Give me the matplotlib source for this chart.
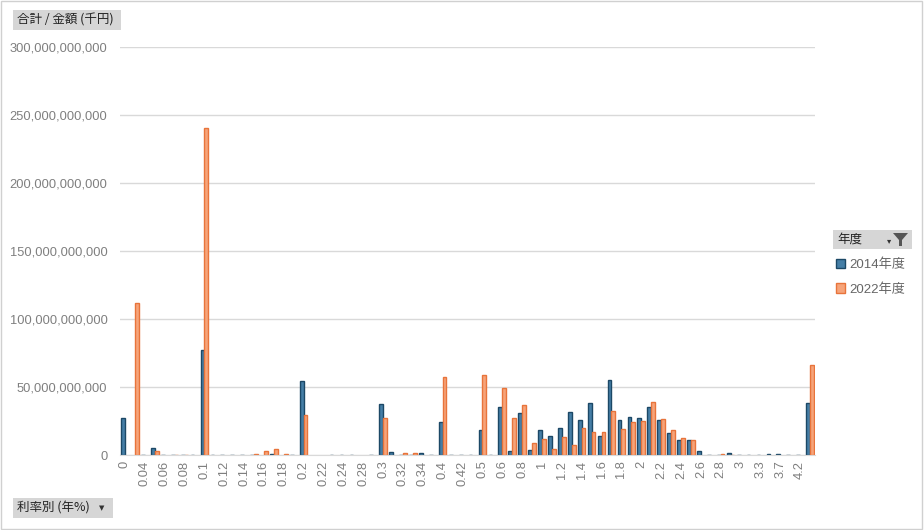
import matplotlib
matplotlib.use('Agg')
import matplotlib.pyplot as plt
import numpy as np
from matplotlib.patches import Rectangle, Polygon
from matplotlib.ticker import FuncFormatter

plt.rcParams['font.family'] = ['Liberation Sans', 'Noto Sans CJK JP', 'DejaVu Sans']

# 利率別 (年%) categories
rates = ['0', '0.01', '0.04', '0.05', '0.06', '0.07', '0.08', '0.09', '0.1', '0.11',
         '0.12', '0.13', '0.14', '0.15', '0.16', '0.17', '0.18', '0.19', '0.2', '0.21',
         '0.22', '0.23', '0.24', '0.25', '0.28', '0.29', '0.3', '0.31', '0.32', '0.33',
         '0.34', '0.35', '0.4', '0.41', '0.42', '0.45', '0.5', '0.55', '0.6', '0.7',
         '0.8', '0.9', '1', '1.1', '1.2', '1.3', '1.4', '1.5', '1.6', '1.7',
         '1.8', '1.9', '2', '2.1', '2.2', '2.3', '2.4', '2.5', '2.6', '2.7',
         '2.8', '2.9', '3', '3.2', '3.3', '3.5', '3.7', '4', '4.2', '4.5']

# 金額 (千円), in units of 1e9
y2014 = [27.5, 0, 0.3, 5, 0.3, 0.2, 0.3, 0.3, 77.5, 0.2,
         0.2, 0.2, 0.2, 0.2, 0, 0.5, 0, 0.3, 54.5, 0,
         0, 0.3, 0.3, 0.3, 0, 0.3, 37.5, 2, 0.3, 0.2,
         1.5, 0.3, 24, 0.3, 0.3, 0.3, 18.7, 0.3, 35.6, 2.7,
         30.6, 3.7, 18.4, 13.9, 19.7, 31.8, 25.6, 38.6, 13.7, 55.5,
         26, 28, 27.4, 35, 26, 16.4, 11.2, 10.7, 2.7, 0.3,
         0.3, 1.2, 0.3, 0.3, 0.3, 1, 1, 0.3, 0.3, 38]
y2022 = [0, 112, 0, 3, 0, 0.3, 0.2, 0, 240.5, 0,
         0, 0, 0, 0.4, 2.8, 4.4, 0.5, 0, 29.5, 0,
         0, 0, 0, 0, 0, 0, 27, 0, 1.3, 1.5,
         0, 0, 57.5, 0, 0, 0, 58.7, 0, 49, 27.4,
         36.8, 8.7, 11.4, 4.5, 13.2, 7, 19.7, 17, 17, 32.3,
         19, 24, 25, 39, 26.6, 18.4, 12.4, 10.7, 0, 0,
         0.5, 0.3, 0, 0, 0, 0, 0, 0, 0, 66]
years = ['2014年度', '2022年度']

x = np.arange(len(rates))
v14 = np.array(y2014) * 1e9
v22 = np.array(y2022) * 1e9

fig = plt.figure(figsize=(9.24, 5.3), dpi=100)
ax = fig.add_axes([120/924, 1-455/530, 695/924, 408/530])

w = 0.38
m14 = v14 > 0
m22 = v22 > 0
b1 = ax.bar(x[m14] - w/2, v14[m14], w, color='#457ea6', edgecolor='#1c4866', linewidth=1)
b2 = ax.bar(x[m22] + w/2, v22[m22], w, color='#f6a47a', edgecolor='#e8743b', linewidth=1)

ax.set_xlim(-0.5, len(rates) - 0.5)
ax.set_ylim(0, 300e9)
ax.set_yticks(np.arange(0, 300e9 + 1, 50e9))
ax.yaxis.set_major_formatter(FuncFormatter(lambda v, p: f'{v:,.0f}'))
ax.set_xticks(x[::2])
ax.set_xticklabels(rates[::2], rotation=90)
ax.tick_params(axis='both', length=0, colors='#7f7f7f', labelsize=9.3)
ax.tick_params(axis='y', pad=9)
ax.tick_params(axis='x', pad=4)
ax.grid(axis='y', color='#d9d9d9', linewidth=1)
ax.set_axisbelow(True)
for s in ['top', 'right', 'left']:
    ax.spines[s].set_visible(False)
ax.spines['bottom'].set_color('#d9d9d9')


def px(xp, yp):
    return xp / 924, 1 - yp / 530


def button(x0, y0, x1, y1, label, arrow=None):
    fx, fy = px(x0, y1)
    fig.patches.append(Rectangle((fx, fy), (x1 - x0) / 924, (y1 - y0) / 530,
                                 transform=fig.transFigure, fc='#d6d6d6', ec='none'))
    tx, ty = px(x0 + 4, (y0 + y1) / 2)
    fig.text(tx, ty, label, fontsize=9, color='#222222', va='center', ha='left',
             family=['Noto Sans CJK JP', 'DejaVu Sans'])
    if arrow is not None:
        ax_, ay_ = px(arrow, (y0 + y1) / 2)
        fig.text(ax_, ay_, '▼', fontsize=5, color='#333333', va='center', ha='center',
                 family=['DejaVu Sans'])


button(13, 10, 121, 30, '合計 / 金額 (千円)')
button(13, 498, 113, 518, '利率別 (年%)', arrow=102)
button(833, 230, 912, 249, '年度')
fx, fy = px(889, 241)
fig.text(fx, fy, '▾', fontsize=6, color='#333333', va='center', ha='center',
         family=['DejaVu Sans'])
funnel = [px(893, 233), px(908, 233), px(902, 240), px(902, 246), px(899, 246), px(899, 240)]
fig.patches.append(Polygon(funnel, closed=True, transform=fig.transFigure,
                           fc='#555555', ec='none'))

lx, ly = px(833, 256)
fig.legend([b1, b2], years, loc='upper left', bbox_to_anchor=(lx, ly),
           frameon=False, fontsize=9.5, labelcolor='#666666',
           handlelength=0.7, handleheight=0.7, handletextpad=0.3, labelspacing=0.9,
           borderaxespad=0, borderpad=0.2)

fig.patches.append(Rectangle((0.001, 0.001), 0.997, 0.997, transform=fig.transFigure,
                             fc='none', ec='#d0d0d0', linewidth=1))

fig.savefig('out.png', dpi=100)
